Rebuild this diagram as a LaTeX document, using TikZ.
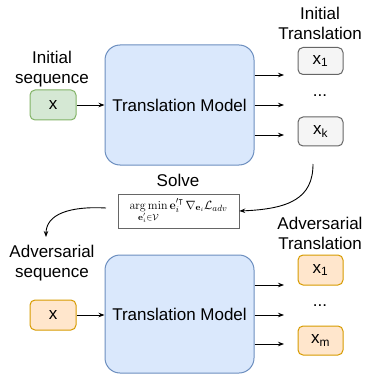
\documentclass[tikz,border=0pt]{standalone}
\usepackage{amsmath,amssymb}
\usepackage[no-math]{fontspec}
\setmainfont{Liberation Sans}
\usetikzlibrary{arrows.meta}
\definecolor{gfill}{HTML}{D5E8D4}\definecolor{gline}{HTML}{82B366}
\definecolor{bfill}{HTML}{DAE8FC}\definecolor{bline}{HTML}{6C8EBF}
\definecolor{ofill}{HTML}{FFE6CC}\definecolor{oline}{HTML}{D79B00}
\definecolor{kfill}{HTML}{F5F5F5}\definecolor{kline}{HTML}{666666}
\tikzset{
  lbl/.style={font=\fontsize{17}{20}\selectfont, align=center, inner sep=0pt},
  model/.style={draw=bline, fill=bfill, line width=1pt, rounded corners=15pt, font=\fontsize{17}{20}\selectfont, inner sep=0pt},
  tok/.style={line width=1pt, rounded corners=5pt, font=\fontsize{17}{20}\selectfont, inner sep=0pt},
  gtok/.style={tok, draw=gline, fill=gfill},
  otok/.style={tok, draw=oline, fill=ofill},
  ktok/.style={tok, draw=kline, fill=kfill},
  arr/.style={-{Stealth[length=6pt,width=4.5pt]}, line width=0.9pt},
}
\begin{document}
\begin{tikzpicture}[x=1pt,y=-1pt]
\useasboundingbox (0,0) rectangle (364,374);
% top
\node[lbl] (inlab) at (52,69) {Initial\\sequence};
\node[gtok, minimum width=46pt, minimum height=30pt] (inx) at (53,105) {x};
\node[model, minimum width=149pt, minimum height=120pt] (m1) at (179.5,105) {Translation Model};
\node[lbl] (outlab) at (320,23) {Initial\\Translation};
\node[ktok, minimum width=45pt, minimum height=27pt] (y1) at (320.5,61) {x\textsubscript{1}};
\node[lbl] (dots1) at (320,96) {...};
\node[ktok, minimum width=45pt, minimum height=29pt] (yk) at (320.5,131.5) {x\textsubscript{k}};
\coordinate (a1) at (284,75);
\coordinate (a2) at (284,105);
\coordinate (a3) at (284,135);
\draw[arr] (inx.east) -- (m1.west);
\draw[arr] (m1.east |- a1) -- (a1);
\draw[arr] (m1.east |- a2) -- (a2);
\draw[arr] (m1.east |- a3) -- (a3);
% solve
\node[lbl] (solve) at (178,180) {Solve};
\node[draw=kline, line width=0.6pt, minimum width=121pt, minimum height=34pt, inner sep=1pt] (form) at (178.5,211)
  {\fontsize{12.5}{15}\selectfont$\operatorname*{arg\,min}\limits_{\mathbf{e}'_i\in\mathcal{V}}\mathbf{e}_i'^{\intercal}\,\nabla_{\mathbf{e}_i}\mathcal{L}_{adv}$};
\coordinate (c1) at (313,164);
\coordinate (c2) at (106,208);
\draw[arr] (c1) .. controls (313,198) and (290,209) .. (form.east);
\draw[arr] (c2) .. controls (70,206) and (46,214) .. (46,237);
% bottom
\node[lbl] (advlab) at (52,263) {Adversarial\\sequence};
\node[otok, minimum width=46pt, minimum height=30pt] (advx) at (53,315) {x};
\node[model, minimum width=149pt, minimum height=118pt] (m2) at (179.5,314) {Translation Model};
\node[lbl] (advout) at (320,233) {Adversarial\\Translation};
\node[otok, minimum width=45pt, minimum height=30pt] (z1) at (320.5,270) {x\textsubscript{1}};
\node[lbl] (dots2) at (320,306) {...};
\node[otok, minimum width=45pt, minimum height=29pt] (zm) at (320.5,340.5) {x\textsubscript{m}};
\coordinate (b1) at (284,285);
\coordinate (b2) at (284,315);
\coordinate (b3) at (284,344);
\draw[arr] (advx.east) -- (m2.west |- advx.east);
\draw[arr] (m2.east |- b1) -- (b1);
\draw[arr] (m2.east |- b2) -- (b2);
\draw[arr] (m2.east |- b3) -- (b3);
\end{tikzpicture}
\end{document}
